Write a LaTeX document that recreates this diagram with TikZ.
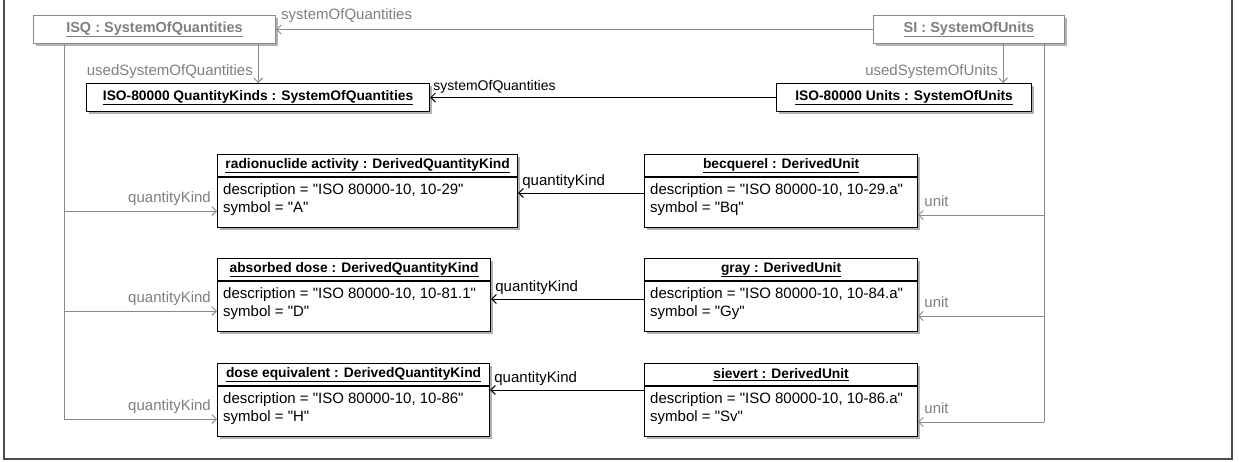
\documentclass[tikz,border=0pt]{standalone}
\usepackage{fontspec}
\setmainfont{Liberation Sans}[Ligatures=TeXOff]
\usetikzlibrary{arrows.meta,shadows}
\definecolor{umlgray}{HTML}{8A8A8A}
\definecolor{umltext}{HTML}{7F7F7F}
\begin{document}
\begin{tikzpicture}[x=1pt,y=-1pt,
  shad/.style={drop shadow={shadow xshift=2.5pt,shadow yshift=-2.5pt,fill=black,opacity=0.3}},
  grayobj/.style={draw=umlgray,line width=1pt,fill=white,inner sep=0pt,anchor=north west,shad,
    font=\fontsize{14.5}{16}\selectfont\bfseries,text=umltext},
  objbox/.style={draw=black,line width=1.2pt,fill=white,inner sep=0pt,anchor=north west,shad,
    font=\fontsize{13.8}{16}\selectfont\bfseries},
  dbox/.style={draw=black,line width=1.2pt,fill=white,inner sep=0pt,anchor=north west,shad,
    minimum height=73pt},
  hdr/.style={font=\fontsize{13.8}{16}\selectfont\bfseries,inner sep=0pt},
  attr/.style={font=\fontsize{15}{18}\selectfont,inner sep=0pt,anchor=base west},
  glbl/.style={font=\fontsize{15}{17}\selectfont,text=umltext,inner sep=0pt},
  blbl/.style={font=\fontsize{15}{17}\selectfont,inner sep=0pt},
  garrow/.style={draw=umlgray,line width=0.9pt,-{Straight Barb[length=4.5pt,width=9pt]}},
  gline/.style={draw=umlgray,line width=0.9pt},
  barrow/.style={draw=black,line width=1pt,-{Straight Barb[length=4.5pt,width=9pt]}},
]
\useasboundingbox (0,0) rectangle (1239,461);
\draw[line width=1.2pt,color=black!70] (4,-2) -- (4,459) -- (1232,459) -- (1232,-2);

% top-level objects
\node[grayobj,minimum width=242pt,minimum height=28pt] (isq) at (33,15) {\underline{ISQ : SystemOfQuantities}};
\node[grayobj,minimum width=191pt,minimum height=28pt] (si) at (873,15) {\underline{SI : SystemOfUnits}};
\node[objbox,minimum width=343pt,minimum height=28pt] (qk) at (86,83) {\underline{ISO-80000 QuantityKinds : SystemOfQuantities}};
\node[objbox,minimum width=255pt,minimum height=28pt] (units) at (776,83) {\underline{ISO-80000 Units : SystemOfUnits}};

% derived quantity kinds
\node[dbox,minimum width=300pt] (ra) at (217,154) {};
\node[dbox,minimum width=273pt] (ad) at (217,258) {};
\node[dbox,minimum width=272pt] (de) at (217,363) {};
% derived units
\node[dbox,minimum width=273pt] (bq) at (644,154) {};
\node[dbox,minimum width=273pt] (gy) at (644,258) {};
\node[dbox,minimum width=273pt] (sv) at (644,363) {};

\foreach \b in {ra,ad,de,bq,gy,sv}{
  \draw[line width=1.2pt] ([yshift=-23pt]\b.north west) -- ([yshift=-23pt]\b.north east);
}
\node[hdr] (rah) at ([yshift=-11.5pt]ra.north) {\underline{radionuclide activity : DerivedQuantityKind}};
\node[hdr] (adh) at ([yshift=-11.5pt]ad.north) {\underline{absorbed dose : DerivedQuantityKind}};
\node[hdr] (deh) at ([yshift=-11.5pt]de.north) {\underline{dose equivalent : DerivedQuantityKind}};
\node[hdr] (bqh) at ([yshift=-11.5pt]bq.north) {\underline{becquerel : DerivedUnit}};
\node[hdr] (gyh) at ([yshift=-11.5pt]gy.north) {\underline{gray : DerivedUnit}};
\node[hdr] (svh) at ([yshift=-11.5pt]sv.north) {\underline{sievert : DerivedUnit}};

\node[attr] (rad) at ([xshift=6pt,yshift=-40pt]ra.north west) {description = "ISO 80000-10, 10-29"};
\node[attr] (ras) at ([xshift=6pt,yshift=-58pt]ra.north west) {symbol = "A"};
\node[attr] (add) at ([xshift=6pt,yshift=-40pt]ad.north west) {description = "ISO 80000-10, 10-81.1"};
\node[attr] (ads) at ([xshift=6pt,yshift=-58pt]ad.north west) {symbol = "D"};
\node[attr] (ded) at ([xshift=6pt,yshift=-40pt]de.north west) {description = "ISO 80000-10, 10-86"};
\node[attr] (des) at ([xshift=6pt,yshift=-58pt]de.north west) {symbol = "H"};
\node[attr] (bqd) at ([xshift=6pt,yshift=-40pt]bq.north west) {description = "ISO 80000-10, 10-29.a"};
\node[attr] (bqs) at ([xshift=6pt,yshift=-58pt]bq.north west) {symbol = "Bq"};
\node[attr] (gyd) at ([xshift=6pt,yshift=-40pt]gy.north west) {description = "ISO 80000-10, 10-84.a"};
\node[attr] (gys) at ([xshift=6pt,yshift=-58pt]gy.north west) {symbol = "Gy"};
\node[attr] (svd) at ([xshift=6pt,yshift=-40pt]sv.north west) {description = "ISO 80000-10, 10-86.a"};
\node[attr] (svs) at ([xshift=6pt,yshift=-58pt]sv.north west) {symbol = "Sv"};

% SI -> ISQ
\draw[garrow] (si.west) -- (isq.east);
\node[glbl,anchor=base west] (l1) at ([xshift=5pt,yshift=10pt]isq.east) {systemOfQuantities};
% Units -> QK
\draw[barrow] (units.west) -- (qk.east);
\node[blbl,anchor=base west,font=\fontsize{14}{16}\selectfont] (l2) at ([xshift=3pt,yshift=7pt]qk.east) {systemOfQuantities};
% usedSystemOfQuantities
\coordinate (uq) at ([xshift=-18pt]isq.south east);
\draw[garrow] (uq) -- (uq |- qk.north);
\node[glbl,anchor=base east] (l3) at ([xshift=-5pt,yshift=8pt]uq |- qk.north) {usedSystemOfQuantities};
% usedSystemOfUnits
\coordinate (uu) at ([xshift=-62pt]si.south east);
\draw[garrow] (uu) -- (uu |- units.north);
\node[glbl,anchor=base east] (l4) at ([xshift=-5pt,yshift=8pt]uu |- units.north) {usedSystemOfUnits};

% left trunk: ISQ -> quantity kinds
\coordinate (lt) at ([xshift=31pt]isq.south west);
\coordinate (ka) at ([yshift=-57pt]ra.north west);
\coordinate (kb) at ([yshift=-53pt]ad.north west);
\coordinate (kc) at ([yshift=-56pt]de.north west);
\draw[gline] (lt) -- (lt |- kc);
\draw[garrow] (lt |- ka) -- (ka);
\draw[garrow] (lt |- kb) -- (kb);
\draw[garrow] (lt |- kc) -- (kc);
\node[glbl,anchor=base east] (q1) at ([xshift=-6pt,yshift=9pt]ka) {quantityKind};
\node[glbl,anchor=base east] (q2) at ([xshift=-6pt,yshift=9pt]kb) {quantityKind};
\node[glbl,anchor=base east] (q3) at ([xshift=-6pt,yshift=9pt]kc) {quantityKind};

% right trunk: SI -> units
\coordinate (rt) at ([xshift=-21pt]si.south east);
\coordinate (ua) at ([yshift=-61pt]bq.north east);
\coordinate (ub) at ([yshift=-58pt]gy.north east);
\coordinate (uc) at ([yshift=-59pt]sv.north east);
\draw[gline] (rt) -- (rt |- uc);
\draw[garrow] (rt |- ua) -- (ua);
\draw[garrow] (rt |- ub) -- (ub);
\draw[garrow] (rt |- uc) -- (uc);
\node[glbl,anchor=base west] (n1) at ([xshift=6pt,yshift=9pt]ua) {unit};
\node[glbl,anchor=base west] (n2) at ([xshift=6pt,yshift=9pt]ub) {unit};
\node[glbl,anchor=base west] (n3) at ([xshift=6pt,yshift=9pt]uc) {unit};

% units -> quantity kinds
\coordinate (ka2) at ([yshift=-39pt]ra.north east);
\coordinate (kb2) at ([yshift=-41pt]ad.north east);
\coordinate (kc2) at ([yshift=-27pt]de.north east);
\draw[barrow] (bq.west |- ka2) -- (ka2);
\draw[barrow] (gy.west |- kb2) -- (kb2);
\draw[barrow] (sv.west |- kc2) -- (kc2);
\node[blbl,anchor=base west] (k1) at ([xshift=4pt,yshift=8pt]ka2) {quantityKind};
\node[blbl,anchor=base west] (k2) at ([xshift=4pt,yshift=8pt]kb2) {quantityKind};
\node[blbl,anchor=base west] (k3) at ([xshift=4pt,yshift=8pt]kc2) {quantityKind};
\end{tikzpicture}
\end{document}
